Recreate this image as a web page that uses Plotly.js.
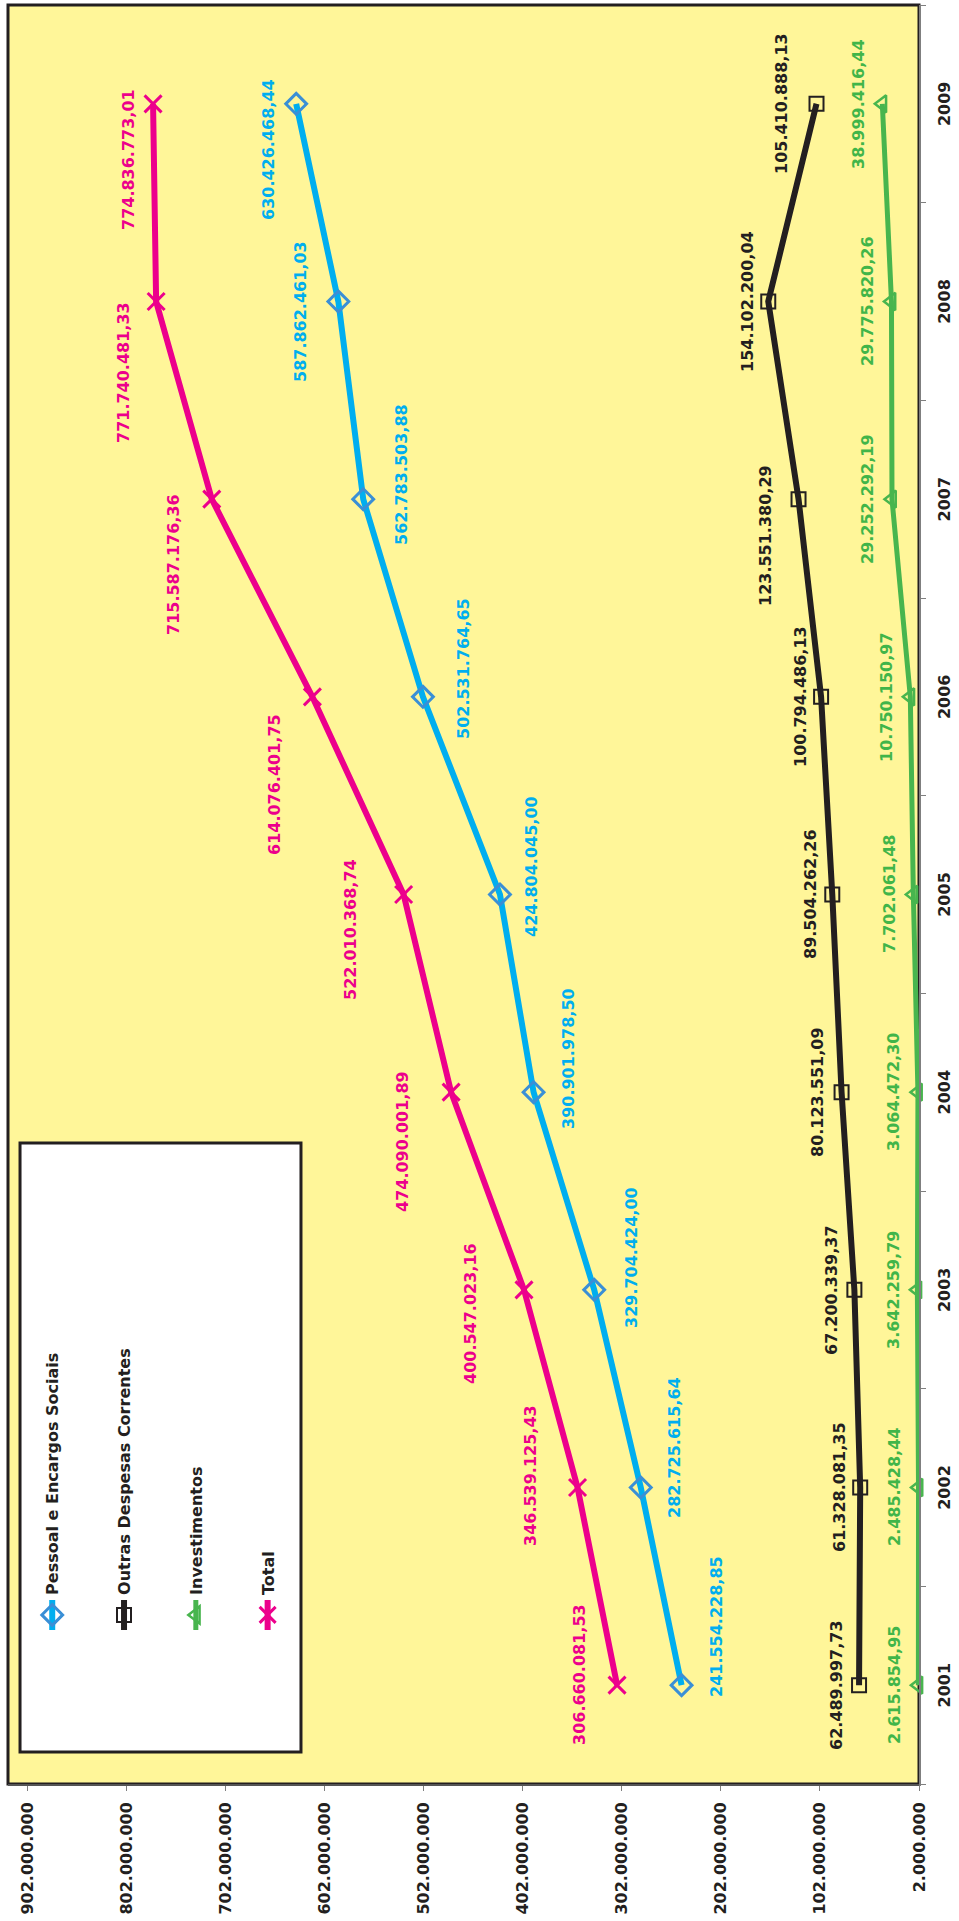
<!DOCTYPE html>
<html>
<head>
<meta charset="utf-8">
<script src="https://cdn.plot.ly/plotly-3.0.1.min.js"></script>
<style>
html, body { margin: 0; padding: 0; overflow: hidden; background: #fff; }
/* chart is drawn landscape, then turned to stand on its side like the original */
#chart { position: absolute; left: 0; top: 0; width: 1921px; height: 959px;
  transform-origin: 0 0; transform: translateY(1921px) rotate(-90deg); }
</style>
</head>
<body>
<div id="chart"></div>
<script>
const years = ['2001', '2002', '2003', '2004', '2005', '2006', '2007', '2008', '2009'];

const pessoal = [241554228.85, 282725615.64, 329704424.00, 390901978.50, 424804045.00,
    502531764.65, 562783503.88, 587862461.03, 630426468.44];
const outras = [62489997.73, 61328081.35, 67200339.37, 80123551.09, 89504262.26,
    100794486.13, 123551380.29, 154102200.04, 105410888.13];
const investimentos = [2615854.95, 2485428.44, 3642259.79, 3064472.30, 7702061.48,
    10750150.97, 29252292.19, 29775820.26, 38999416.44];
const total = [306660081.53, 346539125.43, 400547023.16, 474090001.89, 522010368.74,
    614076401.75, 715587176.36, 771740481.33, 774836773.01];

// label nudges [right, down] in px, the labels were placed by hand in the original
const pessoalShift = [[59, 35], [40, 34], [32, 37], [34, 35], [28, 32], [28, 41], [25, 38], [-10, -38], [-46, -28]];
const outrasShift = [[0, -23], [0, -21], [0, -23], [0, -24], [0, -22], [0, -21], [-36, -33], [0, -21], [0, -35]];
const invShift = [[0, -24], [0, -24], [0, -24], [0, -24], [0, -24], [0, -24], [0, -24], [0, -24], [0, -24]];
const totalShift = [[11, -38], [12, -47], [-24, -54], [-49, -49], [-35, -53], [-88, -38], [-65, -38], [-71, -33], [-56, -25]];

const FONT = 'DejaVu Sans, Verdana, sans-serif';
const DARK = '#231f20';

function fmtBR(v) {
    const parts = v.toFixed(2).split('.');
    return parts[0].replace(/\B(?=(\d{3})+(?!\d))/g, '.') + ',' + parts[1];
}

function makeTrace(name, values, lineColor, lineWidth, symbol, size, markColor, markWidth) {
    return {
        x: years,
        y: values,
        name: name,
        legendgroup: name,
        mode: 'lines+markers',
        cliponaxis: false,
        line: {color: lineColor, width: lineWidth},
        marker: {symbol: symbol, size: size, color: markColor, line: {color: markColor, width: markWidth}},
        hoverinfo: 'skip'
    };
}

let traces = [
    makeTrace('Pessoal e Encargos Sociais', pessoal, '#00aeef', 6, 'diamond-open', 16, '#3a8fd6', 3),
    makeTrace('Outras Despesas Correntes', outras, DARK, 6, 'square-open', 14, DARK, 2),
    makeTrace('Investimentos', investimentos, '#48b54e', 5, 'triangle-up-open', 15, '#48b54e', 2.5),
    makeTrace('Total', total, '#ec008c', 6, 'x-thin', 17, '#ec008c', 3)
];

let annotations = [];
function addLabels(values, shifts, color) {
    for (let i = 0; i < values.length; i++) {
        annotations.push({
            xref: 'x',
            yref: 'y',
            x: i,
            y: values[i],
            text: fmtBR(values[i]),
            showarrow: false,
            xanchor: 'center',
            yanchor: 'middle',
            xshift: shifts[i][0],
            yshift: -shifts[i][1],
            font: {family: FONT, size: 16, weight: 700, color: color}
        });
    }
}
addLabels(pessoal, pessoalShift, '#00aeef');
addLabels(outras, outrasShift, DARK);
addLabels(investimentos, invShift, '#41b549');
addLabels(total, totalShift, '#ec008c');

let layout = {
    width: 1921,
    height: 959,
    margin: {l: 137, r: 5, t: 8, b: 40},
    paper_bgcolor: '#ffffff',
    plot_bgcolor: '#fff699',
    separators: ',.',
    showlegend: true,
    font: {family: FONT, size: 16, color: DARK},
    xaxis: {
        type: 'category',
        range: [-0.5, 8.5],
        automargin: false,
        showgrid: false,
        zeroline: false,
        showline: true,
        linecolor: '#7f7f7f',
        linewidth: 2,
        ticks: 'outside',
        tickson: 'boundaries',
        ticklen: 5,
        tickcolor: '#7f7f7f',
        ticklabelstandoff: 10,
        tickfont: {family: FONT, size: 16, weight: 'bold', color: DARK}
    },
    yaxis: {
        range: [2000000, 921200000],
        tick0: 2000000,
        dtick: 100000000,
        tickformat: ',d',
        automargin: false,
        showgrid: false,
        zeroline: false,
        showline: true,
        linecolor: '#555555',
        linewidth: 2,
        ticks: 'outside',
        ticklen: 5,
        tickcolor: '#7f7f7f',
        ticklabelstandoff: 8,
        tickfont: {family: FONT, size: 16, weight: 'bold', color: DARK}
    },
    legend: {
        x: 0.0838,
        xanchor: 'left',
        y: 0.97,
        yanchor: 'top',
        bgcolor: 'rgba(0,0,0,0)',
        borderwidth: 0,
        tracegroupgap: 48,
        font: {family: FONT, size: 16, weight: 'bold', color: DARK}
    },
    shapes: [
        // plot frame
        {type: 'rect', xref: 'paper', yref: 'paper', x0: 0, x1: 1, y0: 0, y1: 1,
            line: {color: DARK, width: 3}, layer: 'below'},
        // legend box
        {type: 'rect', xref: 'paper', yref: 'paper', x0: 0.018, x1: 0.3603, y0: 0.6784, y1: 0.9868,
            fillcolor: '#ffffff', line: {color: DARK, width: 3}, layer: 'below'}
    ],
    annotations: annotations
};

Plotly.newPlot('chart', traces, layout, {staticPlot: true});
</script>
</body>
</html>
